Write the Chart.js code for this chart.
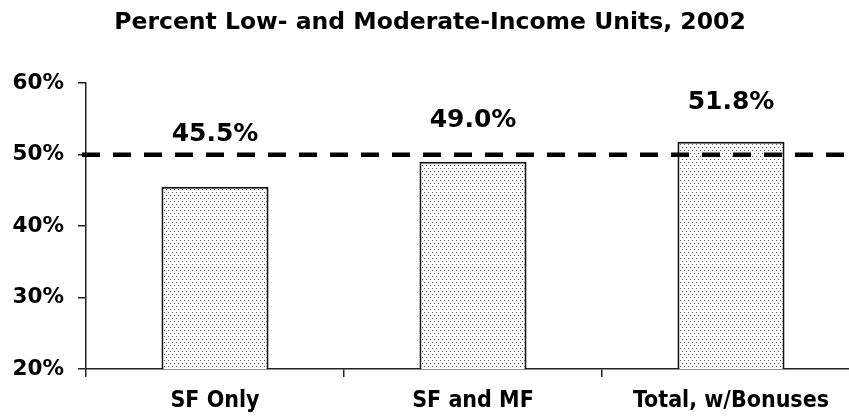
<!DOCTYPE html>
<html>
<head>
<meta charset="utf-8">
<script src="https://cdn.jsdelivr.net/npm/chart.js@4/dist/chart.umd.min.js"></script>
<style>
  html, body { margin: 0; padding: 0; background: #fff; overflow: hidden; }
  #wrap { width: 849px; height: 418px; overflow: hidden; }
  #box { width: 860px; height: 418px; }
</style>
</head>
<body>
<div id="wrap"><div id="box"><canvas id="lmChart"></canvas></div></div>
<script>
const categories = ["SF Only", "SF and MF", "Total, w/Bonuses"];
const lmPercent = [45.5, 49.0, 51.8];
const valueLabels = ["45.5%", "49.0%", "51.8%"];
const yTicks = [20, 30, 40, 50, 60];
const targetLine = 50;
const chartTitle = "Percent Low- and Moderate-Income Units, 2002";

// stippled fill like the original
function makeDots() {
  const c = document.createElement("canvas");
  c.width = 4; c.height = 6;
  const g = c.getContext("2d");
  g.fillStyle = "#fff";
  g.fillRect(0, 0, 4, 6);
  g.fillStyle = "#555";
  g.fillRect(0, 0, 1, 1);
  g.fillRect(2, 3, 1, 1);
  return g.createPattern(c, "repeat");
}

const labelLift = [52, 41, 39];

const extras = {
  id: "extras",
  afterDatasetsDraw(chart) {
    const ctx = chart.ctx;
    const y = chart.scales.y.getPixelForValue(targetLine);
    ctx.save();
    ctx.strokeStyle = "#000";
    ctx.lineWidth = 4.5;
    ctx.setLineDash([18, 13]);
    ctx.beginPath();
    ctx.moveTo(82, y);
    ctx.lineTo(chart.width, y);
    ctx.stroke();
    ctx.setLineDash([]);

    const meta = chart.getDatasetMeta(0);
    ctx.fillStyle = "#000";
    ctx.font = "bold 25px 'DejaVu Sans'";
    ctx.textAlign = "center";
    ctx.textBaseline = "middle";
    meta.data.forEach((bar, i) => {
      ctx.fillText(valueLabels[i], bar.x, bar.y - labelLift[i]);
    });
    ctx.restore();
  }
};

new Chart(document.getElementById("lmChart"), {
  type: "bar",
  data: {
    labels: categories,
    datasets: [{
      data: lmPercent,
      backgroundColor: makeDots(),
      borderColor: "#111",
      borderWidth: 2,
      categoryPercentage: 1,
      barPercentage: 0.415
    }]
  },
  options: {
    responsive: true,
    maintainAspectRatio: false,
    animation: false,
    layout: { padding: 0 },
    plugins: {
      legend: { display: false },
      tooltip: { enabled: false },
      title: {
        display: true,
        text: chartTitle,
        color: "#000",
        font: { family: "'DejaVu Sans'", size: 23.5, weight: "bold" },
        padding: { top: 9, bottom: 46 }
      }
    },
    scales: {
      x: {
        grid: { display: true, drawOnChartArea: false, offset: true, tickLength: 8, color: "#222", lineWidth: 1.5 },
        border: { color: "#222", width: 1.5 },
        ticks: {
          color: "#000",
          padding: 10,
          font: { family: "'DejaVu Sans Condensed'", size: 23, weight: "bold" }
        },
        afterFit(scale) { scale.height = 49; }
      },
      y: {
        min: 20,
        max: 60,
        afterBuildTicks(scale) { scale.ticks = yTicks.map(v => ({ value: v })); },
        grid: { display: true, drawOnChartArea: false, tickLength: 8, color: "#222", lineWidth: 1.5 },
        border: { color: "#222", width: 1.5 },
        ticks: {
          color: "#000",
          padding: 14,
          font: { family: "'DejaVu Sans'", size: 21.5, weight: "bold" },
          callback: v => v + "%"
        },
        afterFit(scale) { scale.width = 86; }
      }
    }
  },
  plugins: [extras]
});
</script>
</body>
</html>
